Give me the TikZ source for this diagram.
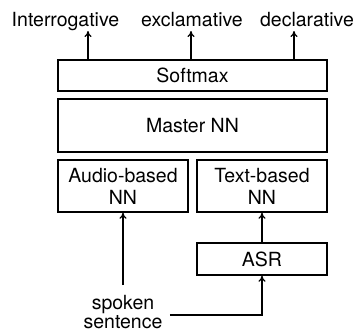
\documentclass[tikz,border=0pt]{standalone}
\usepackage{fontspec}
\setmainfont{TeX Gyre Heros}
\usetikzlibrary{arrows.meta}
\begin{document}
\begin{tikzpicture}[x=1pt,y=-1pt,
  box/.style={draw,line width=1.5pt,inner sep=0pt,align=center,font=\fontsize{19.5}{22}\selectfont},
  lbl/.style={inner sep=0pt,align=center,font=\fontsize{19.5}{19}\selectfont},
  arr/.style={line width=1.4pt,-{To[length=6pt,width=7pt,line width=1.2pt]}}]
\useasboundingbox (0,0) rectangle (360,333);
\node[box,minimum width=269pt,minimum height=31pt] (soft) at (192.5,75.5) {Softmax};
\node[box,minimum width=269pt,minimum height=53pt] (master) at (192.5,125.5) {Master NN};
\node[box,minimum width=130pt,minimum height=52pt] (audio) at (123,186) {Audio-based\\NN};
\node[box,minimum width=130pt,minimum height=52pt] (text) at (262,186) {Text-based\\NN};
\node[box,minimum width=130pt,minimum height=32pt] (asr) at (262,259) {ASR};
\node[lbl,anchor=base] (q) at (65.5,26) {Interrogative};
\node[lbl,anchor=base] (e) at (192,26) {exclamative};
\node[lbl,anchor=base] (d) at (307,26) {declarative};
\node[lbl,anchor=base] (spoken) at (123,328.5) {spoken\\sentence};
\coordinate (qa) at (88,31);
\coordinate (ea) at (191,31);
\coordinate (da) at (294,31);
\coordinate (sa) at (123,285);
\coordinate (sb) at (170,315);
\draw[arr] (qa |- soft.north) -- (qa);
\draw[arr] (ea |- soft.north) -- (ea);
\draw[arr] (da |- soft.north) -- (da);
\draw[arr] (sa) -- (audio.south);
\draw[arr] (asr.north) -- (text.south);
\draw[arr] (sb) -| (asr.south);
\end{tikzpicture}
\end{document}
